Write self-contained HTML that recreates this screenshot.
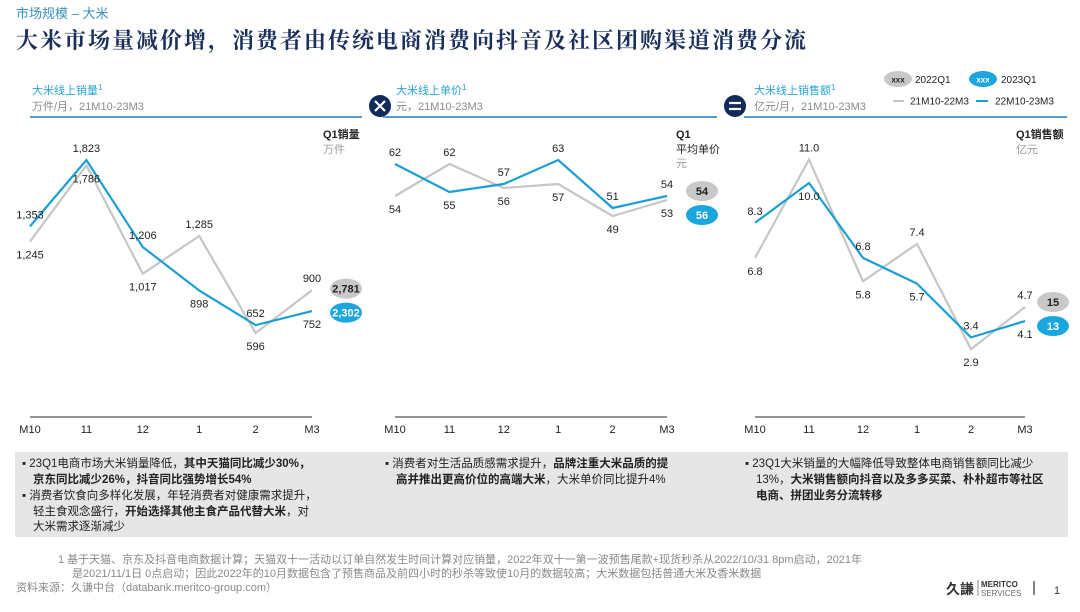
<!DOCTYPE html>
<html><head><meta charset="utf-8">
<style>
html,body{margin:0;padding:0;background:#fff;}
body{width:1080px;height:607px;overflow:hidden;position:relative;font-family:"Liberation Sans","Noto Sans CJK SC",sans-serif;}
svg text{font-family:"Liberation Sans","Noto Sans CJK SC",sans-serif;}
</style></head>
<body>
<svg id="chart" width="1080" height="607" viewBox="0 0 1080 607" xmlns="http://www.w3.org/2000/svg">
  <text x="16" y="18" font-size="13" fill="#3a8fc0" font-family="'Liberation Serif','Noto Serif CJK SC',serif">市场规模 – 大米</text>
  <text x="16" y="48" font-size="22" font-weight="bold" fill="#1b2f5c" letter-spacing="2" style="font-family:'Liberation Serif','Noto Serif CJK SC',serif">大米市场量减价增，消费者由传统电商消费向抖音及社区团购渠道消费分流</text>

  <g>
    <text x="32" y="94" font-size="11" fill="#29a3d6">大米线上销量<tspan font-size="8" dy="-4">1</tspan></text>
    <text x="32" y="110" font-size="11" fill="#8a8a8a">万件/月，21M10-23M3</text>
    <line x1="30" y1="117" x2="362" y2="117" stroke="#1f78b4" stroke-width="1.5"/>
  </g>
  <g>
    <circle cx="380" cy="106" r="11" fill="#102a5a"/>
    <path d="M375 101 L385 111 M385 101 L375 111" stroke="#fff" stroke-width="2.2"/>
  </g>
  <g>
    <text x="396" y="94" font-size="11" fill="#29a3d6">大米线上单价<tspan font-size="8" dy="-4">1</tspan></text>
    <text x="396" y="110" font-size="11" fill="#8a8a8a">元，21M10-23M3</text>
    <line x1="383" y1="117" x2="717" y2="117" stroke="#1f78b4" stroke-width="1.5"/>
  </g>
  <g>
    <circle cx="735" cy="106" r="11" fill="#102a5a"/>
    <path d="M729 103 H741 M729 109 H741" stroke="#fff" stroke-width="2.2"/>
  </g>
  <g>
    <text x="754" y="94" font-size="11" fill="#29a3d6">大米线上销售额<tspan font-size="8" dy="-4">1</tspan></text>
    <text x="754" y="110" font-size="11" fill="#8a8a8a">亿元/月，21M10-23M3</text>
    <line x1="744" y1="117" x2="1067" y2="117" stroke="#1f78b4" stroke-width="1.5"/>
  </g>

  <g>
    <g>
      <ellipse cx="898" cy="79" rx="14" ry="8" fill="#c8c8c8"/>
      <text x="898" y="82.5" font-size="8" font-weight="bold" text-anchor="middle" fill="#222">xxx</text>
      <text x="915" y="83" font-size="10" fill="#222">2022Q1</text>
    </g>
    <g>
      <ellipse cx="983" cy="79" rx="14" ry="8" fill="#1ba6e0"/>
      <text x="983" y="82.5" font-size="8" font-weight="bold" text-anchor="middle" fill="#fff">xxx</text>
      <text x="1001" y="83" font-size="10" fill="#222">2023Q1</text>
    </g>
    <g>
      <line x1="893" y1="101" x2="904" y2="101" stroke="#c6c6c6" stroke-width="2"/>
      <text x="910" y="104.5" font-size="10" fill="#222">21M10-22M3</text>
    </g>
    <g>
      <line x1="976" y1="101" x2="988" y2="101" stroke="#1a9fd3" stroke-width="2"/>
      <text x="995" y="104.5" font-size="10" fill="#222">22M10-23M3</text>
    </g>
  </g>

  <text x="323" y="138" font-size="11" font-weight="bold" fill="#222">Q1销量</text>
  <text x="323" y="153" font-size="11" fill="#9a9a9a">万件</text>
  <text x="676" y="138" font-size="11" font-weight="bold" fill="#222">Q1</text>
  <text x="676" y="153" font-size="11" fill="#222">平均单价</text>
  <text x="676" y="167" font-size="11" fill="#9a9a9a">元</text>
  <text x="1016" y="138" font-size="11" font-weight="bold" fill="#222">Q1销售额</text>
  <text x="1016" y="153" font-size="11" fill="#9a9a9a">亿元</text>

  <g id="plots"></g>

  <rect x="15" y="452" width="1053" height="85" fill="#e6e6e6"/>
  <g font-size="11.5" fill="#222" style="font-family:'Liberation Sans','Noto Serif CJK SC',serif">
    <text x="22" y="467">▪ 23Q1电商市场大米销量降低，<tspan font-weight="bold">其中天猫同比减少30%，</tspan></text>
    <text x="33" y="483"><tspan font-weight="bold">京东同比减少26%，抖音同比强势增长54%</tspan></text>
    <text x="22" y="499">▪ 消费者饮食向多样化发展，年轻消费者对健康需求提升，</text>
    <text x="33" y="515">轻主食观念盛行，<tspan font-weight="bold">开始选择其他主食产品代替大米</tspan>，对</text>
    <text x="33" y="530">大米需求逐渐减少</text>
    <text x="385" y="467">▪ 消费者对生活品质感需求提升，<tspan font-weight="bold">品牌注重大米品质的提</tspan></text>
    <text x="396" y="483"><tspan font-weight="bold">高并推出更高价位的高端大米</tspan>，大米单价同比提升4%</text>
    <text x="745" y="467">▪ 23Q1大米销量的大幅降低导致整体电商销售额同比减少</text>
    <text x="756" y="483">13%，<tspan font-weight="bold">大米销售额向抖音以及多多买菜、朴朴超市等社区</tspan></text>
    <text x="756" y="499"><tspan font-weight="bold">电商、拼团业务分流转移</tspan></text>
  </g>

  <g font-size="11" fill="#8a8a8a">
    <text x="58" y="563">1   基于天猫、京东及抖音电商数据计算；天猫双十一活动以订单自然发生时间计算对应销量，2022年双十一第一波预售尾款+现货秒杀从2022/10/31 8pm启动，2021年</text>
    <text x="72" y="577">是2021/11/1日 0点启动；因此2022年的10月数据包含了预售商品及前四小时的秒杀等致使10月的数据较高；大米数据包括普通大米及香米数据</text>
    <text x="16" y="591">资料来源：久谦中台（databank.meritco-group.com）</text>
  </g>
  <g>
    <text x="946" y="594" font-size="14" font-weight="bold" fill="#333">久謙</text>
    <line x1="978" y1="580" x2="978" y2="596" stroke="#888" stroke-width="1"/>
    <text x="981" y="587" font-size="8" font-weight="bold" fill="#333">MERITCO</text>
    <text x="981" y="596" font-size="8" fill="#666">SERVICES</text>
    <line x1="1034" y1="581" x2="1034" y2="595" stroke="#333" stroke-width="1.2"/>
    <text x="1054" y="594" font-size="11" fill="#333">1</text>
  </g>
</svg>
<script>
const months = ["M10","11","12","1","2","M3"];
const volume2023 = [1353,1823,1206,898,652,752];
const volume2022 = [1245,1786,1017,1285,596,900];
const volumeLabels2023 = ["1,353","1,823","1,206","898","652","752"];
const volumeLabels2022 = ["1,245","1,786","1,017","1,285","596","900"];
const volumeQ1 = ["2,781","2,302"];
const price2023 = [62,55,57,63,51,54];
const price2022 = [54,62,56,57,49,53];
const priceQ1 = ["54","56"];
const sales2023 = [8.3,10.0,6.8,5.7,3.4,4.1];
const sales2022 = [6.8,11.0,5.8,7.4,2.9,4.7];
const salesQ1 = ["15","13"];

const NS="http://www.w3.org/2000/svg";
const plots=document.getElementById('plots');
function mk(tag,attrs,parent){const e=document.createElementNS(NS,tag);for(const k in attrs)e.setAttribute(k,attrs[k]);(parent||plots).appendChild(e);return e;}

const panels=[
 {name:'volume',x0:30,x1:312,base:417,k:0.1409,blue:volume2023,gray:volume2022,bl:volumeLabels2023,gl:volumeLabels2022,q1:volumeQ1,qx:346,qoff:0},
 {name:'price',x0:395,x1:667,base:412,k:4,blue:price2023,gray:price2022,
  bl:price2023.map(String),gl:price2022.map(String),q1:priceQ1,qx:702,qoff:5},
 {name:'sales',x0:755,x1:1025,base:417,k:23.4,blue:sales2023,gray:sales2022,
  bl:sales2023.map(v=>v.toFixed(1)),gl:sales2022.map(v=>v.toFixed(1)),q1:salesQ1,qx:1053,qoff:0}
];
panels.forEach(p=>{
  const g=mk('g',{});
  
  
  const xs=i=>p.x0+(p.x1-p.x0)*i/(months.length-1);
  const ys=v=>p.base-v*p.k;
  const ax=mk('line',{x1:p.x0,y1:417,x2:p.x1,y2:417,stroke:'#555','stroke-width':1.2},g);
  
  
  months.forEach((m,i)=>{
    const t=mk('text',{x:xs(i),y:433,'font-size':11,'text-anchor':'middle',fill:'#222'},g);
    t.textContent=m;
    
    
  });
  const gl=mk('polyline',{points:p.gray.map((v,i)=>xs(i)+','+ys(v)).join(' '),fill:'none',stroke:'#c6c6c6','stroke-width':2.2},g);
  
  
  const bl=mk('polyline',{points:p.blue.map((v,i)=>xs(i)+','+ys(v)).join(' '),fill:'none',stroke:'#1a9fd3','stroke-width':2.2},g);
  
  
  p.blue.forEach((v,i)=>{
    const above = v>=p.gray[i];
    const yb=ys(v), yg=ys(p.gray[i]);
    const tb=mk('text',{x:xs(i),y:above?yb-8:yb+17,'font-size':11,'text-anchor':'middle',fill:'#222'},g);
    tb.textContent=p.bl[i];
    
    
    const tg=mk('text',{x:xs(i),y:above?yg+17:yg-8,'font-size':11,'text-anchor':'middle',fill:'#222'},g);
    tg.textContent=p.gl[i];
    
    
  });
  const last=p.blue.length-1;
  const mid=(ys(p.gray[last])+ys(p.blue[last]))/2+p.qoff;
  const q1y=[mid-12,mid+12];
  [['#c8c8c8','#222'],['#1ba6e0','#fff']].forEach((c,j)=>{
    const e=mk('ellipse',{cx:p.qx,cy:q1y[j],rx:16,ry:10,fill:c[0]},g);
    
    
    const t=mk('text',{x:p.qx,y:q1y[j]+4,'font-size':11,'font-weight':'bold','text-anchor':'middle',fill:c[1]},g);
    t.textContent=p.q1[j];
    
    
  });
});
</script>
</body></html>
